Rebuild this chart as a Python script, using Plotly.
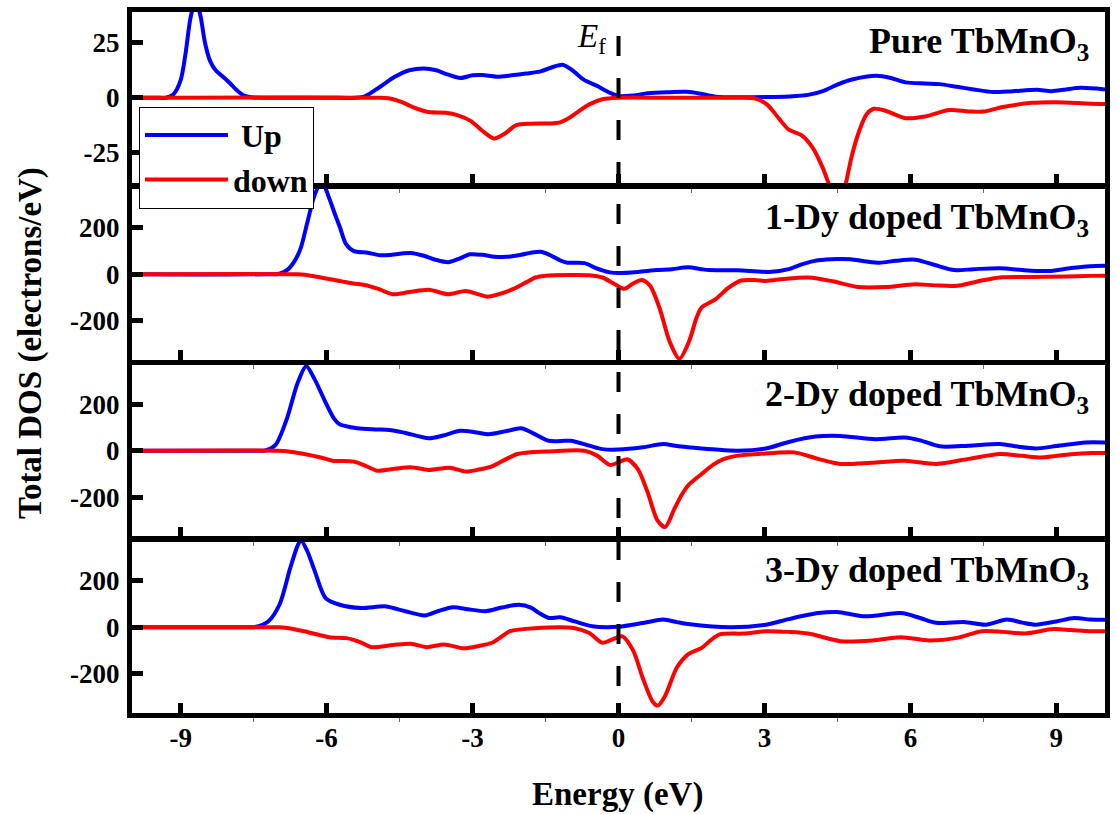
import plotly.graph_objects as go

# ---------------- data ----------------
x_tick_vals = [-9, -6, -3, 0, 3, 6, 9]
x_tick_text = ["-9", "-6", "-3", "0", "3", "6", "9"]
panel_labels = ["Pure TbMnO<sub>3</sub>", "1-Dy doped TbMnO<sub>3</sub>",
                "2-Dy doped TbMnO<sub>3</sub>", "3-Dy doped TbMnO<sub>3</sub>"]
legend_names = [" Up", "down"]

# Pure TbMnO3
pure_up_E = [-10, -9.5, -9.3, -9.15, -9.0, -8.9, -8.8, -8.7, -8.6, -8.5, -8.4, -8.28, -8.1, -7.98, -7.85, -7.7, -7.55, -7.3,
             -6, -5.4, -5.2, -4.9, -4.6, -4.3, -4.0, -3.75, -3.5, -3.25, -3.0, -2.8, -2.5, -2.2, -1.9, -1.6, -1.35, -1.15,
             -0.95, -0.7, -0.45, -0.2, 0, 0.3, 0.6, 1.0, 1.4, 1.7, 2.0, 2.5, 3.0, 3.5, 3.9, 4.2, 4.5, 4.8, 5.3, 5.6, 5.9,
             6.3, 6.6, 6.95, 7.3, 7.7, 8.1, 8.6, 8.9, 9.2, 9.5, 10]
pure_up_D = [0, 0, 0, 1.5, 8, 20, 36, 44, 38, 25, 17, 12.5, 9, 6.5, 3.5, 1, 0.2, 0,
             0, 0, 0.8, 5, 9.5, 12.5, 13.3, 12.5, 10.5, 9, 10.2, 10.3, 9.6, 10.2, 11, 12, 14, 15,
             12.5, 8, 5.5, 2.5, 0.8, 1, 2, 2.5, 2.7, 1.8, 0.5, 0.2, 0.3, 0.6, 1.3, 3, 6, 8.3, 10, 9, 7,
             6.5, 6.2, 5, 3.8, 2.6, 3, 3.6, 3, 3.8, 4.5, 3.8]
pure_dn_E = [-10, -5, -4.7, -4.45, -4.2, -3.9, -3.55, -3.3, -3.04, -2.8, -2.56, -2.35, -2.1, -1.8, -1.43, -1.2, -1.0,
             -0.84, -0.6, -0.33, 0, 1, 2.5, 2.8, 3.05, 3.3, 3.5, 3.76, 4.0, 4.2, 4.32, 4.45, 4.55, 4.65, 4.8, 4.95, 5.1,
             5.25, 5.5, 5.9, 6.3, 6.8, 7.2, 7.5, 7.9, 8.5, 9.0, 9.7, 10]
pure_dn_D = [0, 0, -0.3, -2, -4.5, -6.5, -6.8, -8, -10.5, -15, -18.5, -16.5, -12.5, -11.8, -11.7, -11.2, -9,
             -6.5, -3, -0.7, 0, 0, 0, -0.3, -3, -9.5, -14.5, -17, -23, -32, -39, -46, -47, -41, -26, -15, -7.5,
             -5, -6, -9.3, -8.5, -5.6, -6.2, -6.3, -4.2, -2.3, -2.0, -2.7, -2.8]

# 1-Dy doped
dy1_up_E = [-10, -7.2, -6.97, -6.8, -6.65, -6.53, -6.4, -6.25, -6.1, -5.95, -5.83, -5.73, -5.6, -5.44, -5.15, -4.9,
            -4.71, -4.45, -4.27, -4.0, -3.75, -3.5, -3.3, -3.05, -2.8, -2.55, -2.3, -2.0, -1.8, -1.6, -1.4, -1.2,
            -1.05, -0.7, -0.45, -0.18, 0, 0.4, 0.78, 1.1, 1.43, 1.7, 1.86, 2.45, 3.1, 3.5, 3.8, 4.1, 4.5, 4.77,
            5.1, 5.37, 5.7, 6.1, 6.5, 6.9, 7.3, 7.84, 8.3, 8.85, 9.3, 9.7, 10]
dy1_up_D = [0, 0, 2, 20, 60, 114, 220, 340, 400, 330, 260, 205, 130, 100, 93, 82,
            83, 90, 92, 80, 62, 52, 65, 86, 84, 76, 75, 84, 93, 97, 82, 60,
            50, 48, 25, 8, 5, 10, 18, 22, 30, 22, 18, 17, 10, 22, 45, 60, 66, 65,
            55, 50, 58, 63, 40, 18, 22, 26, 18, 14, 27, 35, 37]
dy1_dn_E = [-10, -6.6, -6.45, -6.1, -5.73, -5.45, -5.22, -4.95, -4.64, -4.3, -3.9, -3.5, -3.14, -2.9, -2.7, -2.4,
            -2.16, -1.9, -1.71, -1.5, -1.0, -0.6, -0.33, -0.1, 0.12, 0.3, 0.48, 0.65, 0.85, 1.05, 1.25, 1.45, 1.6,
            1.71, 2.0, 2.25, 2.52, 2.8, 3.03, 3.4, 3.9, 4.4, 4.92, 5.5, 6.1, 6.5, 6.96, 7.4, 7.84, 8.5, 9.2, 9.7, 10]
dy1_dn_D = [0, 0, -2, -15, -29, -40, -46, -62, -86, -77, -67, -86, -72, -85, -97, -82,
            -63, -35, -14, -6, -3, -4, -14, -40, -63, -40, -25, -50, -150, -290, -365, -290, -190,
            -143, -107, -60, -27, -25, -29, -20, -14, -30, -55, -55, -43, -48, -50, -30, -14, -12, -10, -7, -6]

# 2-Dy doped
dy2_up_E = [-10, -7.4, -7.26, -7.05, -6.82, -6.6, -6.42, -6.25, -6.02, -5.85, -5.73, -5.37, -5.0, -4.71, -4.4, -3.9,
            -3.6, -3.25, -2.95, -2.67, -2.3, -2.0, -1.75, -1.43, -1.1, -0.98, -0.6, -0.33, 0, 0.5, 0.92, 1.2, 1.5,
            2.0, 2.45, 3.03, 3.5, 4.05, 4.56, 5.28, 5.88, 6.2, 6.6, 7.2, 7.84, 8.2, 8.57, 9.0, 9.6, 10]
dy2_up_D = [0, 0, 1, 25, 136, 290, 365, 310, 208, 140, 114, 97, 92, 90, 78, 54,
            66, 86, 80, 71, 85, 97, 75, 43, 43, 43, 22, 7, 5, 15, 29, 20, 14,
            5, 0, 10, 38, 61, 64, 50, 57, 45, 19, 22, 29, 18, 10, 20, 36, 36]
dy2_dn_E = [-10, -7.0, -6.82, -6.46, -6.1, -5.88, -5.44, -5.2, -4.96, -4.6, -4.27, -3.9, -3.47, -3.14, -2.85, -2.6,
            -2.3, -2.08, -1.8, -1.43, -0.7, -0.45, -0.18, 0.0, 0.18, 0.4, 0.6, 0.8, 0.96, 1.15, 1.3, 1.43, 1.71,
            1.95, 2.16, 2.5, 2.88, 3.61, 4.1, 4.56, 5.2, 5.88, 6.53, 7.2, 7.84, 8.3, 8.7, 9.3, 9.73, 10]
dy2_dn_D = [0, 0, -2, -14, -30, -43, -47, -65, -86, -78, -71, -83, -73, -90, -80, -67,
            -35, -14, -6, -3, 0, -20, -61, -50, -37, -80, -180, -300, -329, -250, -190, -150, -100,
            -60, -36, -20, -14, -7, -35, -57, -52, -43, -57, -35, -14, -22, -29, -15, -10, -10]

# 3-Dy doped
dy3_up_E = [-10, -7.6, -7.48, -7.2, -6.97, -6.75, -6.6, -6.53, -6.4, -6.24, -6.02, -5.73, -5.29, -4.78, -4.4, -3.98,
            -3.7, -3.4, -3.1, -2.74, -2.4, -2.05, -1.8, -1.63, -1.43, -1.2, -0.9, -0.54, 0, 0.5, 0.92, 1.2, 1.43,
            2.3, 3.03, 3.5, 4.1, 4.49, 5.07, 5.8, 6.2, 6.53, 7.1, 7.55, 7.98, 8.3, 8.57, 9.0, 9.37, 9.7, 10]
dy3_up_D = [0, 0, 1, 25, 97, 254, 350, 375, 330, 240, 126, 97, 83, 90, 70, 51,
            70, 86, 78, 69, 85, 97, 85, 61, 40, 43, 25, 4, 2, 18, 33, 22, 14,
            0, 11, 35, 61, 66, 47, 61, 40, 19, 23, 11, 33, 20, 11, 25, 40, 33, 32]
dy3_dn_E = [-10, -7.0, -6.9, -6.46, -5.95, -5.59, -5.3, -5.08, -4.64, -4.27, -3.94, -3.58, -3.18, -2.85, -2.6, -2.4,
            -2.23, -1.72, -0.9, -0.6, -0.33, -0.1, 0.08, 0.3, 0.5, 0.7, 0.81, 0.95, 1.2, 1.43, 1.71, 1.9, 2.08,
            2.59, 3.03, 3.5, 3.9, 4.56, 5.22, 5.8, 6.39, 6.96, 7.47, 7.9, 8.35, 8.94, 9.3, 9.7, 10]
dy3_dn_D = [0, 0, -1, -17, -43, -47, -65, -86, -77, -71, -86, -74, -91, -80, -67, -40,
            -17, -4, -4, -25, -67, -50, -39, -100, -220, -320, -338, -300, -174, -117, -89, -55, -31,
            -27, -17, -20, -27, -60, -57, -43, -57, -46, -17, -20, -27, -8, -12, -17, -17]

panels = [
    (pure_up_E, pure_up_D, pure_dn_E, pure_dn_D, [-39, 39], [-25, 0, 25], ["-25", "0", "25"]),
    (dy1_up_E, dy1_up_D, dy1_dn_E, dy1_dn_D, [-370, 370], [-200, 0, 200], ["-200", "0", "200"]),
    (dy2_up_E, dy2_up_D, dy2_dn_E, dy2_dn_D, [-370, 370], [-200, 0, 200], ["-200", "0", "200"]),
    (dy3_up_E, dy3_up_D, dy3_dn_E, dy3_dn_D, [-370, 370], [-200, 0, 200], ["-200", "0", "200"]),
]

# ---------------- figure ----------------
W, H = 1117, 814
ML, MR, MT, MB = 132, 7, 9, 101
PW, PH = W - ML - MR, H - MT - MB
FONT = "Liberation Serif"

def bfont(size):
    return dict(family=FONT, size=size, color="black", weight="bold")

def px_y(py):
    return (H - MB - py) / PH

def px_x(px):
    return (px - ML) / PW

domains = [[px_y(181.25), 1.0], [px_y(358.5), px_y(186.25)],
           [px_y(535.75), px_y(363.5)], [0.0, px_y(540.75)]]
panel_tops = [9, 186.25, 363.5, 540.75]

fig = go.Figure()
layout = dict(
    width=W, height=H,
    margin=dict(l=ML, r=MR, t=MT, b=MB),
    paper_bgcolor="white", plot_bgcolor="white",
    showlegend=True,
    font=dict(family=FONT, color="black"),
)

for i, (ue, ud, de, dd, yr, ytv, ytt) in enumerate(panels):
    n = i + 1
    xa = "x" if n == 1 else f"x{n}"
    ya = "y" if n == 1 else f"y{n}"
    fig.add_trace(go.Scatter(x=ue, y=ud, mode="lines", name=legend_names[0],
                             line=dict(color="#0000ff", width=4, shape="spline", smoothing=0.8),
                             xaxis=xa, yaxis=ya, showlegend=(n == 1)))
    fig.add_trace(go.Scatter(x=de, y=dd, mode="lines", name=legend_names[1],
                             line=dict(color="#ff0000", width=4, shape="spline", smoothing=0.8),
                             xaxis=xa, yaxis=ya, showlegend=(n == 1)))
    xkey = "xaxis" if n == 1 else f"xaxis{n}"
    ykey = "yaxis" if n == 1 else f"yaxis{n}"
    layout[xkey] = dict(
        domain=[0, 1], anchor=ya, range=[-10, 10],
        tickmode="array", tickvals=x_tick_vals, ticktext=x_tick_text,
        ticks="inside", ticklen=10, tickwidth=5, tickcolor="black",
        showline=True, linewidth=5, linecolor="black", mirror=True,
        showgrid=False, zeroline=False,
        showticklabels=(n == 4),
        tickfont=bfont(27),
        ticklabelstandoff=-3,
        minor=dict(tick0=-7.5, dtick=3, ticks="outside", ticklen=4, tickwidth=1, tickcolor="#666"),
    )
    if n != 1:
        layout[xkey]["matches"] = "x"
    layout[ykey] = dict(
        domain=domains[i], anchor=xa, range=yr,
        tickmode="array", tickvals=ytv, ticktext=ytt,
        ticks="inside", ticklen=11, tickwidth=5, tickcolor="black",
        showline=True, linewidth=5, linecolor="black", mirror=True,
        showgrid=False, zeroline=False,
        tickfont=bfont(27),
        ticklabelstandoff=2,
    )

annotations = []
for i, lab in enumerate(panel_labels):
    annotations.append(dict(
        text=lab, xref="paper", yref="paper", x=px_x(1096), y=px_y(panel_tops[i] + 7),
        xanchor="right", yanchor="top", showarrow=False,
        font=bfont(36)))
annotations.append(dict(
    text="<i>E</i><sub>f</sub>", xref="paper", yref="paper", x=px_x(594), y=px_y(36),
    xanchor="center", yanchor="middle", showarrow=False,
    font=dict(family=FONT, size=33, color="black")))
annotations.append(dict(
    text="Total DOS (electrons/eV)", xref="paper", yref="paper", x=px_x(30), y=px_y(342),
    xanchor="center", yanchor="middle", textangle=-90, showarrow=False,
    font=bfont(33)))
annotations.append(dict(
    text="Energy (eV)", xref="paper", yref="paper", x=px_x(620), y=px_y(795),
    xanchor="center", yanchor="middle", showarrow=False,
    font=bfont(33)))
layout["annotations"] = annotations

layout["shapes"] = [dict(
    type="line", xref="x", yref="paper", x0=0, x1=0, y0=px_y(33), y1=0,
    line=dict(color="black", width=4, dash="20px,22px"), layer="above")]

layout["legend"] = dict(
    x=px_x(139), y=px_y(104), xanchor="left", yanchor="top",
    bgcolor="white", bordercolor="black", borderwidth=1,
    font=bfont(32),
    itemwidth=83, tracegroupgap=0,
)

fig.update_layout(**layout)
fig.write_html("out.html")
